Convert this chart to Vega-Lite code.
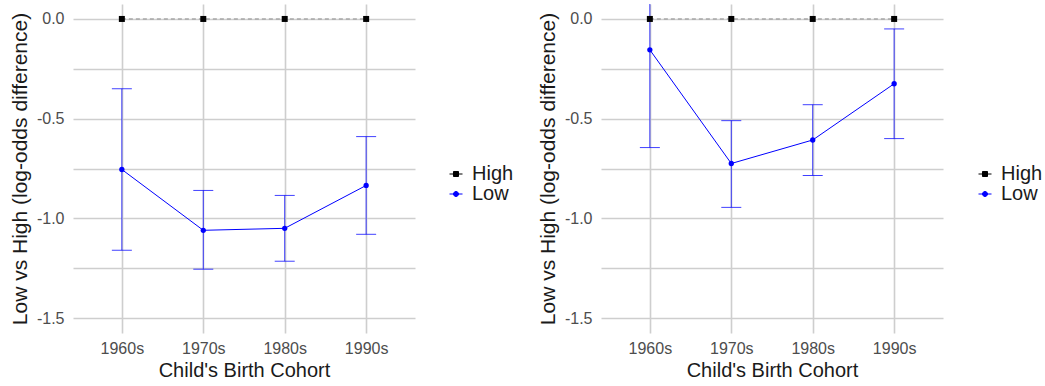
{
  "$schema": "https://vega.github.io/schema/vega-lite/v6.json",
  "padding": {"left": 9, "top": 4, "right": 0, "bottom": 0},
  "background": "white",
  "config": {
    "font": "Liberation Sans",
    "view": {"stroke": null},
    "axis": {
      "domain": false, "ticks": false, "grid": true,
      "gridColor": "#cecece", "gridWidth": 1.6,
      "labelFont": "Liberation Sans", "labelFontSize": 16, "labelColor": "#4d4d4d",
      "titleFont": "Liberation Sans", "titleFontSize": 20, "titleColor": "#1a1a1a", "titleFontWeight": "normal"
    },
    "legend": {"labelFont": "Liberation Sans", "labelFontSize": 20, "labelColor": "#1a1a1a"}
  },
  "data": {"values": [
    {"panel": "A", "cohort": "1960s", "group": "High", "est": 0, "lo": null, "hi": null},
    {"panel": "A", "cohort": "1970s", "group": "High", "est": 0, "lo": null, "hi": null},
    {"panel": "A", "cohort": "1980s", "group": "High", "est": 0, "lo": null, "hi": null},
    {"panel": "A", "cohort": "1990s", "group": "High", "est": 0, "lo": null, "hi": null},
    {"panel": "A", "cohort": "1960s", "group": "Low", "est": -0.755, "lo": -1.16, "hi": -0.35},
    {"panel": "A", "cohort": "1970s", "group": "Low", "est": -1.06, "lo": -1.255, "hi": -0.86},
    {"panel": "A", "cohort": "1980s", "group": "Low", "est": -1.05, "lo": -1.215, "hi": -0.885},
    {"panel": "A", "cohort": "1990s", "group": "Low", "est": -0.835, "lo": -1.08, "hi": -0.59},
    {"panel": "B", "cohort": "1960s", "group": "High", "est": 0, "lo": null, "hi": null},
    {"panel": "B", "cohort": "1970s", "group": "High", "est": 0, "lo": null, "hi": null},
    {"panel": "B", "cohort": "1980s", "group": "High", "est": 0, "lo": null, "hi": null},
    {"panel": "B", "cohort": "1990s", "group": "High", "est": 0, "lo": null, "hi": null},
    {"panel": "B", "cohort": "1960s", "group": "Low", "est": -0.155, "lo": -0.645, "hi": 0.335},
    {"panel": "B", "cohort": "1970s", "group": "Low", "est": -0.725, "lo": -0.945, "hi": -0.51},
    {"panel": "B", "cohort": "1980s", "group": "Low", "est": -0.607, "lo": -0.785, "hi": -0.43},
    {"panel": "B", "cohort": "1990s", "group": "Low", "est": -0.325, "lo": -0.6, "hi": -0.05}
  ]},
  "spacing": 23,
  "resolve": {
    "scale": {"color": "independent", "stroke": "independent", "shape": "independent", "y": "independent", "x": "independent"},
    "legend": {"color": "independent", "stroke": "independent", "shape": "independent"}
  },
  "hconcat": [
    {
      "width": 342, "height": 329,
      "transform": [{"filter": "datum.panel === 'A'"}],
      "layer": [
        {
          "transform": [{"filter": "datum.group === 'High'"}],
          "mark": {"type": "line", "color": "#8c8c8c", "strokeWidth": 1, "strokeDash": [4, 3]},
          "encoding": {
            "x": {"field": "cohort", "type": "ordinal", "scale": {"type": "point", "padding": 0.6}, "title": "Child's Birth Cohort", "axis": {"labelAngle": 0, "labelPadding": 7, "titlePadding": 4}},
            "y": {"field": "est", "type": "quantitative", "scale": {"domain": [-1.575, 0.075], "nice": false, "zero": false}, "title": "Low vs High (log-odds difference)", "axis": {"values": [0, -0.25, -0.5, -0.75, -1, -1.25, -1.5], "labelExpr": "datum.value % 0.5 !== 0 ? '' : (datum.value === 0 ? '0.0' : '-' + format(-datum.value, '.1f'))", "labelPadding": 9, "titlePadding": 6, "titleFontSize": 21}}
          }
        },
        {
          "transform": [{"filter": "datum.group === 'Low'"}],
          "mark": {"type": "rule", "color": "#0000ff", "opacity": 0.75, "strokeWidth": 1, "clip": true},
          "encoding": {
            "x": {"field": "cohort", "type": "ordinal"},
            "y": {"field": "lo", "type": "quantitative"},
            "y2": {"field": "hi"}
          }
        },
        {
          "transform": [{"filter": "datum.group === 'Low'"}, {"fold": ["lo", "hi"], "as": ["bound", "bval"]}],
          "mark": {"type": "tick", "color": "#0000ff", "opacity": 0.75, "size": 20, "thickness": 1, "orient": "horizontal", "clip": true},
          "encoding": {
            "x": {"field": "cohort", "type": "ordinal"},
            "y": {"field": "bval", "type": "quantitative"}
          }
        },
        {
          "transform": [{"filter": "datum.group === 'Low'"}],
          "mark": {"type": "line", "color": "#0000ff", "strokeWidth": 1},
          "encoding": {
            "x": {"field": "cohort", "type": "ordinal"},
            "y": {"field": "est", "type": "quantitative"}
          }
        },
        {
          "transform": [{"filter": "datum.group === 'Low'"}],
          "mark": {"type": "point", "shape": "circle", "filled": true, "opacity": 1, "color": "#0000ff", "size": 28},
          "encoding": {
            "x": {"field": "cohort", "type": "ordinal"},
            "y": {"field": "est", "type": "quantitative"}
          }
        },
        {
          "transform": [{"filter": "datum.group === 'High'"}],
          "mark": {"type": "point", "shape": "square", "filled": true, "opacity": 1, "color": "#000000", "size": 36},
          "encoding": {
            "x": {"field": "cohort", "type": "ordinal"},
            "y": {"field": "est", "type": "quantitative"}
          }
        },
        {
          "transform": [{"filter": "false"}],
          "mark": {"type": "point", "filled": true, "opacity": 1, "strokeWidth": 1},
          "encoding": {
            "color": {"field": "group", "type": "nominal", "scale": {"domain": ["High", "Low"], "range": ["#000000", "#0000ff"]},
              "legend": {"title": null, "orient": "none", "legendX": 373, "legendY": 160, "padding": 0, "rowPadding": 0, "labelOffset": 6, "symbolSize": 169, "symbolStrokeWidth": 1, "symbolOpacity": 1}},
            "stroke": {"field": "group", "type": "nominal", "scale": {"domain": ["High", "Low"], "range": ["#000000", "#0000ff"]},
              "legend": {"title": null, "orient": "none", "legendX": 373, "legendY": 160, "padding": 0, "rowPadding": 0, "labelOffset": 6, "symbolSize": 169, "symbolStrokeWidth": 1, "symbolOpacity": 1}},
            "shape": {"field": "group", "type": "nominal", "scale": {"domain": ["High", "Low"], "range": ["M-1,0L1,0M-0.385,-0.385L0.385,-0.385L0.385,0.385L-0.385,0.385Z", "M-1,0L1,0M0.385,0A0.385,0.385,0,1,1,-0.385,0A0.385,0.385,0,1,1,0.385,0Z"]},
              "legend": {"title": null, "orient": "none", "legendX": 373, "legendY": 160, "padding": 0, "rowPadding": 0, "labelOffset": 6, "symbolSize": 169, "symbolStrokeWidth": 1, "symbolOpacity": 1}}
          }
        }
      ]
    },
    {
      "width": 342, "height": 329,
      "transform": [{"filter": "datum.panel === 'B'"}],
      "layer": [
        {
          "transform": [{"filter": "datum.group === 'High'"}],
          "mark": {"type": "line", "color": "#8c8c8c", "strokeWidth": 1, "strokeDash": [4, 3]},
          "encoding": {
            "x": {"field": "cohort", "type": "ordinal", "scale": {"type": "point", "padding": 0.6}, "title": "Child's Birth Cohort", "axis": {"labelAngle": 0, "labelPadding": 7, "titlePadding": 4}},
            "y": {"field": "est", "type": "quantitative", "scale": {"domain": [-1.575, 0.075], "nice": false, "zero": false}, "title": "Low vs High (log-odds difference)", "axis": {"values": [0, -0.25, -0.5, -0.75, -1, -1.25, -1.5], "labelExpr": "datum.value % 0.5 !== 0 ? '' : (datum.value === 0 ? '0.0' : '-' + format(-datum.value, '.1f'))", "labelPadding": 9, "titlePadding": 6, "titleFontSize": 21}}
          }
        },
        {
          "transform": [{"filter": "datum.group === 'Low'"}],
          "mark": {"type": "rule", "color": "#0000ff", "opacity": 0.75, "strokeWidth": 1, "clip": true},
          "encoding": {
            "x": {"field": "cohort", "type": "ordinal"},
            "y": {"field": "lo", "type": "quantitative"},
            "y2": {"field": "hi"}
          }
        },
        {
          "transform": [{"filter": "datum.group === 'Low'"}, {"fold": ["lo", "hi"], "as": ["bound", "bval"]}],
          "mark": {"type": "tick", "color": "#0000ff", "opacity": 0.75, "size": 20, "thickness": 1, "orient": "horizontal", "clip": true},
          "encoding": {
            "x": {"field": "cohort", "type": "ordinal"},
            "y": {"field": "bval", "type": "quantitative"}
          }
        },
        {
          "transform": [{"filter": "datum.group === 'Low'"}],
          "mark": {"type": "line", "color": "#0000ff", "strokeWidth": 1},
          "encoding": {
            "x": {"field": "cohort", "type": "ordinal"},
            "y": {"field": "est", "type": "quantitative"}
          }
        },
        {
          "transform": [{"filter": "datum.group === 'Low'"}],
          "mark": {"type": "point", "shape": "circle", "filled": true, "opacity": 1, "color": "#0000ff", "size": 28},
          "encoding": {
            "x": {"field": "cohort", "type": "ordinal"},
            "y": {"field": "est", "type": "quantitative"}
          }
        },
        {
          "transform": [{"filter": "datum.group === 'High'"}],
          "mark": {"type": "point", "shape": "square", "filled": true, "opacity": 1, "color": "#000000", "size": 36},
          "encoding": {
            "x": {"field": "cohort", "type": "ordinal"},
            "y": {"field": "est", "type": "quantitative"}
          }
        },
        {
          "transform": [{"filter": "false"}],
          "mark": {"type": "point", "filled": true, "opacity": 1, "strokeWidth": 1},
          "encoding": {
            "color": {"field": "group", "type": "nominal", "scale": {"domain": ["High", "Low"], "range": ["#000000", "#0000ff"]},
              "legend": {"title": null, "orient": "none", "legendX": 374, "legendY": 160, "padding": 0, "rowPadding": 0, "labelOffset": 6, "symbolSize": 169, "symbolStrokeWidth": 1, "symbolOpacity": 1}},
            "stroke": {"field": "group", "type": "nominal", "scale": {"domain": ["High", "Low"], "range": ["#000000", "#0000ff"]},
              "legend": {"title": null, "orient": "none", "legendX": 374, "legendY": 160, "padding": 0, "rowPadding": 0, "labelOffset": 6, "symbolSize": 169, "symbolStrokeWidth": 1, "symbolOpacity": 1}},
            "shape": {"field": "group", "type": "nominal", "scale": {"domain": ["High", "Low"], "range": ["M-1,0L1,0M-0.385,-0.385L0.385,-0.385L0.385,0.385L-0.385,0.385Z", "M-1,0L1,0M0.385,0A0.385,0.385,0,1,1,-0.385,0A0.385,0.385,0,1,1,0.385,0Z"]},
              "legend": {"title": null, "orient": "none", "legendX": 374, "legendY": 160, "padding": 0, "rowPadding": 0, "labelOffset": 6, "symbolSize": 169, "symbolStrokeWidth": 1, "symbolOpacity": 1}}
          }
        }
      ]
    }
  ]
}
